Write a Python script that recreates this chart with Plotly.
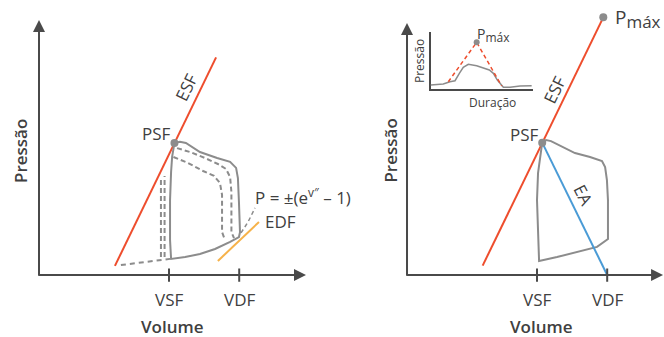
import plotly.graph_objects as go

# ---------------- data (arbitrary units) ----------------
VSF = 50
VDF = 77
tick_labels = ["VSF", "VDF"]

# left panel: end-systolic line (ESF) and loops
esf_left_x = [29.2, 68.1]
esf_left_y = [3.5, 83.7]
psf_left = (52.1, 50.8)

loop_left_x = [52.1, 54.2, 56.5, 61.9, 68.5, 73.5, 75.8, 76.5, 76.9, 77.3, 76.9,
               73.5, 67.7, 61.9, 56.2, 50.8, 50.4, 50.4, 50.8, 51.2, 52.1]
loop_left_y = [50.8, 51.2, 50.8, 47.3, 45.0, 43.5, 41.2, 37.3, 28.1, 16.5, 14.6,
               12.7, 10.0, 8.1, 6.9, 6.2, 13.5, 28.8, 39.6, 45.4, 50.8]

dash1_x = [48.3, 48.3, None, 53.1, 58.1, 63.8, 68.8, 71.9, 73.5, 74.0, 74.0, 75.0]
dash1_y = [6.9, 38.1, None, 48.8, 47.3, 45.0, 42.7, 40.8, 37.7, 31.9, 16.5, 14.2]
dash2_x = [46.9, 46.9, None, 51.7, 57.3, 63.1, 67.3, 69.6, 70.4, 70.4, 71.5]
dash2_y = [6.9, 36.5, None, 45.4, 43.1, 40.0, 38.1, 35.4, 30.8, 16.5, 13.5]

lower_dash_x = [31.5, 50.4]
lower_dash_y = [3.8, 6.2]
edpvr_x = [77.7, 80.4, 83.1]
edpvr_y = [16.2, 20.4, 25.8]
edf_x = [68.8, 84.6]
edf_y = [5.4, 20.4]

# right panel
esf_right_x = [29.1, 75.5]
esf_right_y = [3.6, 99.1]
psf_right = (52.0, 50.9)
pmax_right = (75.5, 99.1)
ea_x = [52.0, 77.0]
ea_y = [50.9, 0.0]
loop_right_x = [52.0, 53.5, 55.4, 60.0, 64.6, 70.4, 75.0, 76.2, 76.9, 77.3, 77.3,
                73.1, 65.4, 57.7, 50.8, 50.4, 50.0, 50.4, 51.2, 52.0]
loop_right_y = [50.9, 51.9, 51.5, 49.2, 46.9, 45.4, 43.8, 41.5, 36.5, 28.8, 13.8,
                10.8, 8.8, 6.9, 5.4, 16.2, 28.8, 39.2, 45.4, 50.9]

# inset: pressure vs duration
inset_dur = [0.7, 12.9, 19.4, 24.3, 28.5, 32.3, 37.2, 45.3, 57.6, 61.5, 65.4, 71.2, 77.7, 87.4, 98.7]
inset_pres = [8.6, 10.3, 14.3, 16.0, 28.8, 39.1, 44.3, 41.9, 34.5, 28.8, 17.2, 4.7, 4.7, 6.9, 7.4]
inset_peak_dur = [17.8, 45.3, 69.6]
inset_peak_pres = [14.3, 82.2, 6.9]

# ---------------- styles ----------------
W, H = 664, 337
FONT = "Open Sans"
TXT = "#404040"
AXC = "#4a4a4a"
RED = "#ee4d2d"
BLUE = "#4a9bd6"
ORANGE = "#f6b24a"
GRAY = "#8c8c8c"


def dom_x(a, b):
    return [a / W, b / W]


def dom_y(top, bottom):
    return [1 - bottom / H, 1 - top / H]


fig = go.Figure()


def line(x, y, color, width=2, dash=None, xa="x", ya="y"):
    fig.add_trace(go.Scatter(x=x, y=y, mode="lines", xaxis=xa, yaxis=ya,
                             line=dict(color=color, width=width, dash=dash),
                             hoverinfo="skip", showlegend=False))


def dot(p, size=8, xa="x", ya="y"):
    fig.add_trace(go.Scatter(x=[p[0]], y=[p[1]], mode="markers", xaxis=xa, yaxis=ya,
                             marker=dict(color=GRAY, size=size), cliponaxis=False,
                             hoverinfo="skip", showlegend=False))


# left panel
line(lower_dash_x, lower_dash_y, GRAY, 2, "5px,4px")
line(dash2_x, dash2_y, GRAY, 2, "5px,3px")
line(dash1_x, dash1_y, GRAY, 2, "5px,3px")
line(esf_left_x, esf_left_y, RED, 2)
line(loop_left_x, loop_left_y, GRAY, 2)
line(edpvr_x, edpvr_y, GRAY, 1.5, "4px,3px")
line(edf_x, edf_y, ORANGE, 2)
dot(psf_left)
tx, ty = [], []
for v in (VSF, VDF):
    tx += [v, v, None]
    ty += [2.5, -2.6, None]
line(tx, ty, AXC, 2)

# right panel
line(esf_right_x, esf_right_y, RED, 2, xa="x2", ya="y2")
line(loop_right_x, loop_right_y, GRAY, 2, xa="x2", ya="y2")
line(ea_x, ea_y, BLUE, 2, xa="x2", ya="y2")
dot(psf_right, xa="x2", ya="y2")
dot(pmax_right, xa="x2", ya="y2")
line(tx, ty, AXC, 2, xa="x2", ya="y2")

# inset
line([0, 0, 100], [100, 0, 0], AXC, 2, xa="x3", ya="y3")
line(inset_dur, inset_pres, GRAY, 1.5, xa="x3", ya="y3")
line(inset_peak_dur, inset_peak_pres, RED, 1.5, "4px,3px", xa="x3", ya="y3")
dot((inset_peak_dur[1], inset_peak_pres[1]), size=6, xa="x3", ya="y3")

ax_common = dict(visible=False, fixedrange=True)
fig.update_layout(
    width=W, height=H, autosize=False,
    margin=dict(l=0, r=0, t=0, b=0),
    paper_bgcolor="white", plot_bgcolor="rgba(0,0,0,0)",
    xaxis=dict(domain=dom_x(0, 330), range=[-15.0, 111.92], **ax_common),
    yaxis=dict(domain=dom_y(0, 337), range=[-23.85, 105.77], **ax_common),
    xaxis2=dict(domain=dom_x(330, 664), range=[-29.62, 98.85], **ax_common),
    yaxis2=dict(domain=dom_y(0, 337), range=[-23.85, 105.77], **ax_common),
    xaxis3=dict(domain=dom_x(405, 545), range=[-24.27, 111.65], **ax_common),
    yaxis3=dict(domain=dom_y(15, 115), range=[-43.10, 129.31], **ax_common),
)

ann = []


def arrow(xa, ya, x0, y0, x1, y1):
    ann.append(dict(xref=xa, yref=ya, axref=xa, ayref=ya, x=x1, y=y1, ax=x0, ay=y0,
                    text="", showarrow=True, arrowhead=2, arrowsize=1.2,
                    arrowwidth=2, arrowcolor=AXC, standoff=0, startstandoff=0))


def label(xa, ya, x, y, text, size=17, angle=0, weight=400, xanchor="center", color=TXT):
    ann.append(dict(xref=xa, yref=ya, x=x, y=y, text=text, showarrow=False,
                    textangle=angle, xanchor=xanchor, yanchor="middle",
                    font=dict(family=FONT, size=size, color=color, weight=weight)))


# axes arrows
arrow("x", "y", 0, -0.8, 0, 98.1)
arrow("x", "y", -0.8, 0, 102.7, 0)
arrow("x2", "y2", 0, -0.8, 0, 96.9)
arrow("x2", "y2", -0.8, 0, 98.5, 0)

# left labels
label("x", "y", -6.9, 47.7, "Pressão", angle=-90, weight=600)
label("x", "y", 51.5, -20.0, "Volume", weight=600)
label("x", "y", VSF, -9.6, tick_labels[0])
label("x", "y", VDF, -9.6, tick_labels[1])
label("x", "y", 45.0, 54.6, "PSF")
label("x", "y", 56.5, 72.3, "ESF", angle=-64)
label("x", "y", 82.3, 30.0, "P = ±(e<sup>v″</sup> – 1)", xanchor="left")
label("x", "y", 86.2, 20.4, "EDF", xanchor="left")

# right labels
label("x2", "y2", -6.3, 47.7, "Pressão", angle=-90, weight=600)
label("x2", "y2", 51.9, -20.0, "Volume", weight=600)
label("x2", "y2", VSF, -9.6, tick_labels[0])
label("x2", "y2", VDF, -9.6, tick_labels[1])
label("x2", "y2", 45.0, 54.2, "PSF")
label("x2", "y2", 56.9, 71.2, "ESF", angle=-64)
label("x2", "y2", 67.7, 30.8, "EA", angle=63)
label("x2", "y2", 79.4, 98.6,
      'P<sub><span style="font-size:17px">máx</span></sub>', size=19, xanchor="left")

# inset labels
label("x3", "y3", -9.7, 50, "Pressão", size=12, angle=-90)
label("x3", "y3", 60.2, -20.7, "Duração", size=12)
label("x3", "y3", 43.9, 95.0,
      'P<sub><span style="font-size:12px">máx</span></sub>', size=14, xanchor="left")

fig.update_layout(annotations=ann)
fig.write_html("out.html", config={"displayModeBar": False},
               post_script="document.body.style.margin='0';")
